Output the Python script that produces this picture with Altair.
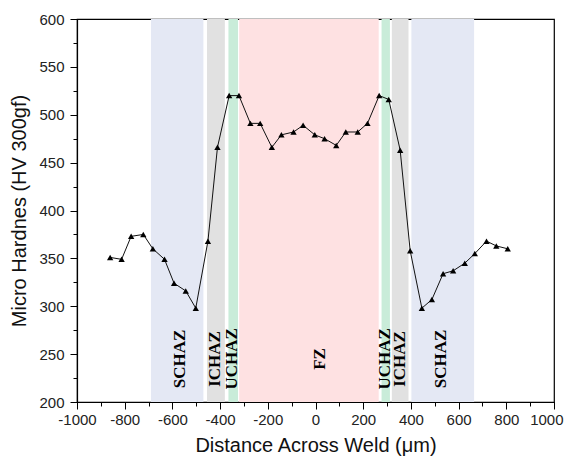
import altair as alt
import pandas as pd

# Hardness profile across the weld
dist = [-861, -813, -773, -722, -682, -633, -593, -544, -502, -451, -411, -362, -321,
        -273, -232, -183, -143, -92, -52, -3, 38, 87, 127, 177, 218, 267, 307,
        355, 397, 446, 488, 535, 577, 626, 668, 717, 758, 806]
hard = [351, 349, 373, 375, 360, 349, 324, 316, 298, 368, 466, 520, 520,
        491, 491, 466, 479, 482, 489, 479, 475, 468, 482, 482, 491, 520, 516,
        463, 358, 298, 307, 334, 337, 345, 355, 368, 363, 360]

# Zones
zone_names = ["SCHAZ", "ICHAZ", "UCHAZ", "FZ", "UCHAZ", "ICHAZ", "SCHAZ"]
zone_start = [-690, -455, -365, -320, 277, 320, 402]
zone_end = [-470, -380, -325, 265, 312, 390, 665]
zone_colors = ["#e4e8f4", "#e1e1e1", "#c9ecd9", "#fee1e2", "#c9ecd9", "#e1e1e1", "#e4e8f4"]
label_x = [-570, -420, -352, 17, 293, 356, 528]
label_y = [245] * 7

x_major = list(range(-1000, 1001, 200))
x_minor = list(range(-1000, 1001, 100))
y_major = list(range(200, 601, 50))
y_minor = list(range(200, 601, 25))

df = pd.DataFrame({"dist": dist, "hard": hard})
zones = pd.DataFrame({"name": zone_names, "start": zone_start, "end": zone_end,
                      "color": zone_colors, "lx": label_x, "ly": label_y})

xscale = alt.Scale(domain=[-1000, 1000], nice=False, zero=False)
yscale = alt.Scale(domain=[200, 600], nice=False, zero=False)

FONT = "Liberation Sans"

bands = alt.Chart(zones).mark_rect().encode(
    x=alt.X("start:Q", scale=xscale, axis=None),
    x2="end:Q",
    color=alt.Color("color:N", scale=None, legend=None),
)

labels = alt.Chart(zones).mark_text(
    angle=270, align="center", baseline="middle",
    font="Liberation Serif", fontWeight="bold", fontSize=17, color="black"
).encode(
    x=alt.X("lx:Q", scale=xscale, axis=None),
    y=alt.Y("ly:Q", scale=yscale, axis=None),
    text="name:N",
)

line = alt.Chart(df).mark_line(color="#111111", strokeWidth=1).encode(
    x=alt.X("dist:Q", scale=xscale,
            axis=alt.Axis(values=x_major, labelExpr="'' + datum.value", tickSize=7,
                          orient="bottom", labelOverlap=False, labelFlush=False,
                          labelAlign=alt.ExprRef("datum.value == 1000 ? 'right' : 'center'"),
                          labelOffset=alt.ExprRef("datum.value == 1000 ? 9 : 0"),
                          title="Distance Across Weld (μm)", titlePadding=8,
                          labelPadding=3)),
    y=alt.Y("hard:Q", scale=yscale,
            axis=alt.Axis(values=y_major, labelExpr="'' + datum.value", tickSize=7,
                          orient="left", labelOverlap=False, labelFlush=False,
                          title="Micro Hardnes (HV 300gf)", titlePadding=9,
                          labelPadding=6)),
)

points = alt.Chart(df).mark_point(shape="triangle-up", filled=True, color="black",
                                  size=40, opacity=1).encode(
    x=alt.X("dist:Q", scale=xscale,
            axis=alt.Axis(values=x_minor, tickSize=4, labels=False, domain=False,
                          title=None, orient="bottom")),
    y=alt.Y("hard:Q", scale=yscale,
            axis=alt.Axis(values=y_minor, tickSize=4, labels=False, domain=False,
                          title=None, orient="left")),
)

chart = alt.layer(bands, labels, line, points).resolve_axis(
    x="independent", y="independent"
).properties(
    width=477, height=383,
    padding={"left": 69, "top": 11, "right": 10, "bottom": 56},
    autosize=alt.AutoSizeParams(type="none"),
).configure_view(
    stroke="black", strokeWidth=1.2
).configure_axis(
    grid=False, domainColor="black", tickColor="black", domainWidth=1.2, tickWidth=1,
    labelFont=FONT, labelFontSize=15, labelColor="#222222",
    titleFont=FONT, titleFontSize=20, titleFontWeight="normal", titleColor="#111111",
)

chart.save("out.html", embed_options={"renderer": "svg", "actions": False})
